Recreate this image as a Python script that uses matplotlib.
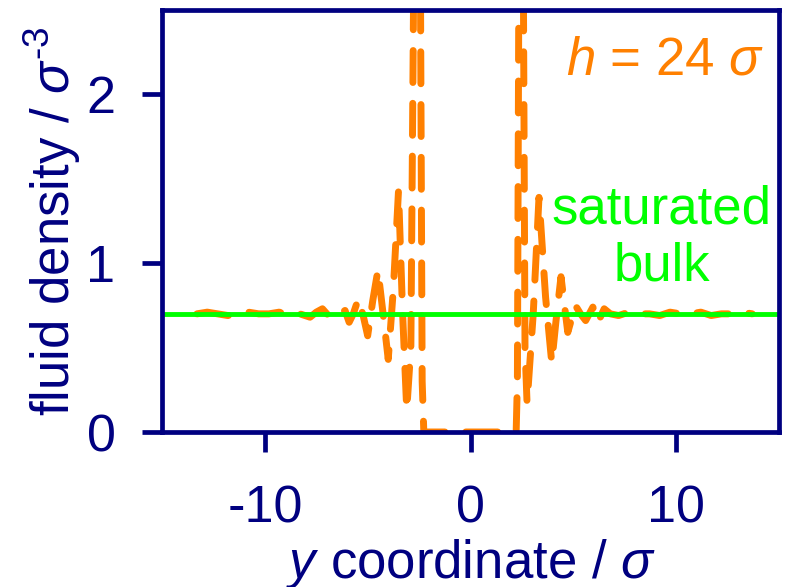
import matplotlib.pyplot as plt

plt.rcParams['font.family'] = ['Liberation Sans', 'DejaVu Sans']
plt.rcParams['mathtext.fontset'] = 'custom'
plt.rcParams['mathtext.rm'] = 'Liberation Sans'
plt.rcParams['mathtext.it'] = 'Liberation Sans:italic'
plt.rcParams['axes.unicode_minus'] = False

# density profile
y_coord = [-13.3, -12.8, -12.3, -11.8, -11.3, -10.8, -10.3, -9.8, -9.3, -8.8,
           -8.3, -7.8, -7.5, -7.2, -6.8, -6.4, -6.1, -5.9, -5.7, -5.45,
           -5.2, -5.0, -4.75, -4.5, -4.25, -4.0, -3.75, -3.5, -3.3, -3.1,
           -2.9, -2.55, -2.35, -2.27,
           2.22, 2.28, 2.45, 2.65, 2.75, 3.05, 3.33, 3.65, 3.95, 4.15,
           4.4, 4.73, 5.1, 5.35, 5.6, 5.95, 6.2, 6.5, 6.8, 7.2,
           7.7, 8.2, 8.7, 9.2, 9.7, 10.2, 10.7, 11.2, 11.7, 12.2,
           12.7, 13.2, 13.7]
density = [0.70, 0.71, 0.70, 0.69, 0.70, 0.71, 0.70, 0.70, 0.71, 0.69,
           0.70, 0.68, 0.71, 0.73, 0.675, 0.70, 0.72, 0.65, 0.70, 0.79,
           0.68, 0.57, 0.78, 0.96, 0.70, 0.43, 0.85, 1.43, 0.70, 0.13,
           0.50, 6.0, 0.30, 0.0,
           0.0, 0.30, 6.0, 0.50, 0.17, 0.70, 1.39, 0.80, 0.41, 0.65,
           0.92, 0.59, 0.75, 0.70, 0.66, 0.74, 0.65, 0.73, 0.70, 0.69,
           0.71, 0.70, 0.70, 0.69, 0.71, 0.70, 0.70, 0.71, 0.69, 0.70,
           0.70, 0.71, 0.70]
bulk_density = 0.7

navy = '#000080'
orange = '#FF8000'
green = '#00FF00'
fs = 38

fig = plt.figure(figsize=(7.86, 5.87), dpi=100)
ax = fig.add_axes([162/786, (587-432)/587, 617/786, 422/587])

ax.plot(y_coord, density, color=orange, lw=5, ls=(0, (4.6, 3.0)),
        dash_capstyle='round', solid_capstyle='round', zorder=2)
ax.axhline(bulk_density, color=green, lw=3.5, zorder=3)

ax.set_xlim(-15, 15)
ax.set_ylim(0, 2.5)
ax.set_xticks([-10, 0, 10])
ax.set_yticks([0, 1, 2])

for sp in ax.spines.values():
    sp.set_color(navy)
    sp.set_linewidth(3.4)
    sp.set_zorder(5)
ax.tick_params(axis='both', colors=navy, labelsize=37.5, length=14.5, width=3.4,
               direction='out')
ax.tick_params(axis='x', pad=23)
ax.tick_params(axis='y', pad=19)

ax.set_xlabel('$y$ coordinate / $\\sigma$', fontsize=fs, color=navy)
ax.set_ylabel('fluid density / $\\sigma^{\\text{-3}}$', fontsize=fs, color=navy)
ax.xaxis.label.set_va('baseline')
ax.xaxis.set_label_coords(0.5, -0.346)
ax.yaxis.label.set_va('baseline')
ax.yaxis.set_label_coords(-0.149, 0.5)

ax.text(14.3, 2.12, '$h$ = 24 $\\sigma$', color=orange, fontsize=fs,
        ha='right', va='baseline')
ax.text(9.3, 1.237, 'saturated', color=green, fontsize=fs, ha='center', va='baseline')
ax.text(9.3, 0.90, 'bulk', color=green, fontsize=fs, ha='center', va='baseline')

fig.savefig('out.png', dpi=100)
